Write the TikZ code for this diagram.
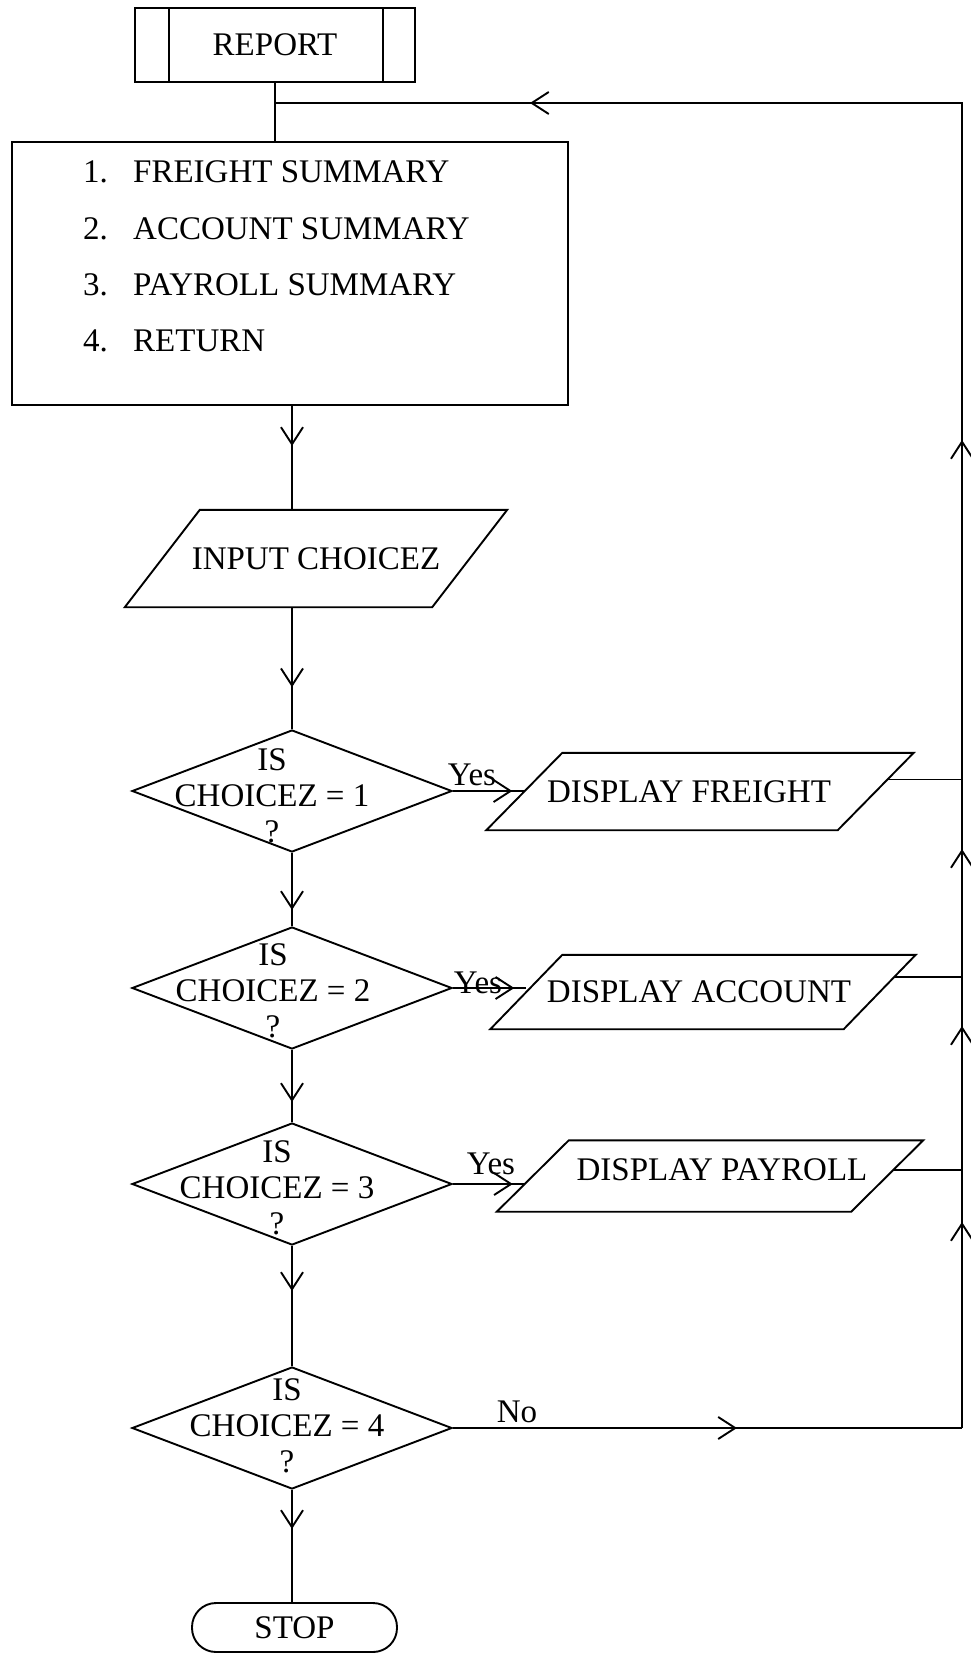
\documentclass[tikz,border=0pt]{standalone}
\usepackage{fontspec}
\setmainfont{Liberation Serif}
\usetikzlibrary{arrows.meta,shapes.geometric,decorations.markings,calc}

\tikzset{
  chev/.tip={Straight Barb[length=17pt,width=22pt]},
  flow/.style={line width=1.9pt},
  markat/.style={postaction={decorate},
    decoration={markings, mark=at position #1 with {\arrow{chev}}}},
  procbox/.style={draw, flow, minimum width=280pt, minimum height=74pt, inner sep=0pt},
  menubox/.style={draw, flow, minimum width=556pt, minimum height=263pt, inner sep=0pt},
  menuline/.style={anchor=west, inner sep=0pt},
  decision/.style={draw, flow, diamond, minimum width=320pt, minimum height=122pt, inner sep=0pt},
  dtext/.style={align=center, inner sep=0pt},
  iotext/.style={inner sep=0pt},
  terminal/.style={draw, flow, rounded corners=24pt, minimum width=205pt, minimum height=49pt, inner sep=0pt},
  lbl/.style={inner sep=0pt},
}

% input/output parallelogram drawn around a text node: #1 node, #2 half slant
\newcommand\iopar[2]{%
  \draw[flow] ($(#1.south west)+(-#2,0)$) -- ($(#1.north west)+(#2,0)$)
    -- ($(#1.north east)+(#2,0)$) -- ($(#1.south east)+(-#2,0)$) -- cycle;}

\begin{document}
\begin{tikzpicture}[x=1pt, y=-1pt, font=\fontsize{33}{36}\selectfont]
\useasboundingbox (0,0) rectangle (971,1656);

% predefined process
\node[procbox] (rep) at (275,45) {REPORT};
\draw[flow] ([xshift=35pt]rep.north west) -- ([xshift=35pt]rep.south west);
\draw[flow] ([xshift=-33pt]rep.north east) -- ([xshift=-33pt]rep.south east);

% menu
\node[menubox] (menu) at (290,273.5) {};
\node[menuline] (m1) at (83,172) {\makebox[50pt][l]{1.}FREIGHT SUMMARY};
\node[menuline] (m2) at (83,229) {\makebox[50pt][l]{2.}ACCOUNT SUMMARY};
\node[menuline] (m3) at (83,285) {\makebox[50pt][l]{3.}PAYROLL SUMMARY};
\node[menuline] (m4) at (83,341) {\makebox[50pt][l]{4.}RETURN};

% input
\node[iotext, minimum width=307pt, minimum height=97pt] (inp) at (316,558.5) {INPUT CHOICEZ};
\iopar{inp}{37.5}

% decisions
\node[decision] (d1) at (292,791) {};
\node[decision] (d2) at (292,988) {};
\node[decision] (d3) at (292,1184) {};
\node[decision] (d4) at (292,1428) {};
\node[dtext] (t1) at ($(d1.center)+(-20,5)$) {IS\\CHOICEZ = 1\\?};
\node[dtext] (t2) at ($(d2.center)+(-19,3)$) {IS\\CHOICEZ = 2\\?};
\node[dtext] (t3) at ($(d3.center)+(-15,4)$) {IS\\CHOICEZ = 3\\?};
\node[dtext] (t4) at ($(d4.center)+(-5,-2)$) {IS\\CHOICEZ = 4\\?};

% outputs
\node[iotext, minimum width=351pt, minimum height=77pt] (df) at (700,791.5) {};
\node[lbl] (dft) at ($(df.center)+(-11,0)$) {DISPLAY FREIGHT};
\iopar{df}{38}
\node[iotext, minimum width=353pt, minimum height=74pt] (da) at (703,992) {};
\node[lbl] (dat) at ($(da.center)+(-4,0)$) {DISPLAY ACCOUNT};
\iopar{da}{36}
\node[iotext, minimum width=354pt, minimum height=71pt] (dp) at (710,1176) {};
\node[lbl] (dpt) at ($(dp.center)+(12,-6)$) {DISPLAY PAYROLL};
\iopar{dp}{36}

% terminal
\node[terminal] (stop) at (294.5,1627.5) {STOP};

% loop-back corners
\coordinate (rb) at (962,1428);
\coordinate (rt) at (962,103);
\coordinate (jn) at (275,103);

% main column
\draw[flow] (rep.south) -- (menu.north -| rep.south);
\draw[flow, markat=40pt] (menu.south -| d1.north) -- (inp.north -| d1.north);
\draw[flow, markat=80pt] (inp.south -| d1.north) -- (d1.north);
\draw[flow, markat=57pt] (d1.south) -- (d2.north);
\draw[flow, markat=52pt] (d2.south) -- (d3.north);
\draw[flow, markat=45pt] (d3.south) -- (d4.north);
\draw[flow, markat=39pt] (d4.south) -- (stop.north -| d4.south);

% yes branches
\draw[flow, markat=-12pt] (d1.east) -- (d1.east -| df.west);
\draw[flow, markat=-12pt] (d2.east) -- (d2.east -| da.west);
\draw[flow, markat=-12pt] (d3.east) -- ($(d3.east -| dp.west)+(-8,0)$);
\node[lbl] (y1) at (472,775) {Yes};
\node[lbl] (y2) at (478,983) {Yes};
\node[lbl] (y3) at (491,1164) {Yes};

% returns to the loop line
\coordinate (dfr) at ($(df.east)+(12,-12)$);
\coordinate (dar) at ($(da.east)+(14.5,-15)$);
\coordinate (dpr) at ($(dp.east)+(6,-6)$);
\draw[flow] (dfr) -- (dfr -| rb);
\draw[flow] (dar) -- (dar -| rb);
\draw[flow] (dpr) -- (dpr -| rb);

% no branch and loop back
\draw[flow, markat=284pt] (d4.east) -- (rb);
\node[lbl] (no) at (517,1412) {No};
\draw[flow, postaction={decorate}, decoration={markings,
    mark=at position 206pt with {\arrow{chev}},
    mark=at position 402pt with {\arrow{chev}},
    mark=at position 579pt with {\arrow{chev}},
    mark=at position 988pt with {\arrow{chev}},
    mark=at position 1757pt with {\arrow{chev}}}]
  (rb) -- (rt) -- (jn);
\end{tikzpicture}
\end{document}
